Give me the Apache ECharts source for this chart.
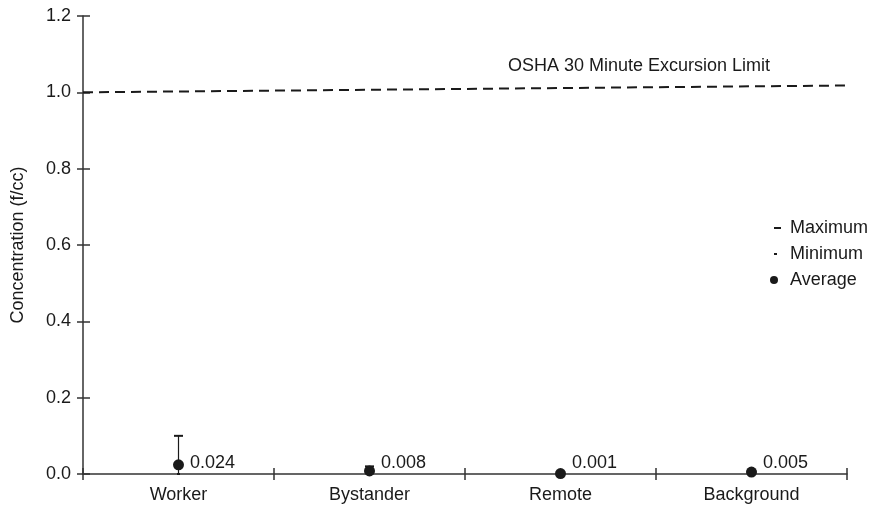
<!DOCTYPE html>
<html>
<head>
<meta charset="utf-8">
<script src="https://cdn.jsdelivr.net/npm/echarts@6/dist/echarts.min.js"></script>
<style>html,body{margin:0;padding:0;background:#fff;}#c{width:874px;height:507px;}</style>
</head>
<body>
<div id="c"></div>
<script>
const categories = ['Worker', 'Bystander', 'Remote', 'Background'];
const averages = [0.024, 0.008, 0.001, 0.005];
const maximums = [0.10, 0.02, 0.002, 0.008];
const minimums = [0.0, 0.002, 0.0, 0.002];
const limitValues = [1.0, 1.018];
const limitLabel = 'OSHA 30 Minute Excursion Limit';
const yAxisTitle = 'Concentration (f/cc)';

const FONT = '"Liberation Sans", Arial, sans-serif';
const INK = '#1a1a1a';
const AX = '#333';
const FS = 18;
const chart = echarts.init(document.getElementById('c'));

const option = {
  backgroundColor: '#fff',
  animation: false,
  textStyle: { fontFamily: FONT },
  grid: { left: 83, right: 27, top: 16, bottom: 33 },
  legend: [
    { data: ['Maximum'], orient: 'vertical', left: 769, top: 214, icon: 'rect', itemWidth: 7, itemHeight: 2,
      itemStyle: { color: INK, opacity: 1 },
      textStyle: { fontSize: FS, color: INK, fontFamily: FONT, padding: [0, 0, 0, 4] }, selectedMode: false },
    { data: ['Minimum'], orient: 'vertical', left: 769, top: 240, icon: 'rect', itemWidth: 3, itemHeight: 2,
      itemStyle: { color: INK, opacity: 1 },
      textStyle: { fontSize: FS, color: INK, fontFamily: FONT, padding: [0, 0, 0, 8] }, selectedMode: false },
    { data: ['Average'], orient: 'vertical', left: 765, top: 266, icon: 'circle', itemWidth: 8, itemHeight: 8,
      itemStyle: { color: INK, opacity: 1 },
      textStyle: { fontSize: FS, color: INK, fontFamily: FONT, padding: [0, 0, 0, 7] }, selectedMode: false }
  ],
  xAxis: [
    { type: 'category', data: categories, boundaryGap: true,
      axisLine: { lineStyle: { color: AX, width: 1.5 } },
      axisTick: { show: true, length: 6, inside: false, lineStyle: { color: AX, width: 1.5 } },
      axisLabel: { fontSize: FS, color: INK, margin: 12, fontFamily: FONT },
      splitLine: { show: false } },
    { type: 'category', data: categories, boundaryGap: true, position: 'bottom',
      axisLine: { show: false },
      axisTick: { show: true, length: 6, inside: true, lineStyle: { color: AX, width: 1.5 } },
      axisLabel: { show: false }, splitLine: { show: false } },
    { type: 'value', min: 0, max: 1, show: false }
  ],
  yAxis: [
    { type: 'value', min: 0, max: 1.2, interval: 0.2,
      name: yAxisTitle, nameLocation: 'middle', nameGap: 56,
      nameTextStyle: { fontSize: FS, color: INK, fontFamily: FONT },
      axisLine: { show: true, lineStyle: { color: AX, width: 1.5 } },
      axisTick: { show: true, length: 6, inside: false, lineStyle: { color: AX, width: 1.5 } },
      axisLabel: { fontSize: FS, color: INK, margin: 12, fontFamily: FONT, formatter: v => v.toFixed(1) },
      splitLine: { show: false } },
    { type: 'value', min: 0, max: 1.2, interval: 0.2, position: 'left',
      axisLine: { show: false },
      axisTick: { show: true, length: 7, inside: true, lineStyle: { color: AX, width: 1.5 } },
      axisLabel: { show: false }, splitLine: { show: false } }
  ],
  graphic: [
    { type: 'text', left: 508, top: 57, silent: true,
      style: { text: limitLabel, fontSize: FS, fill: INK, fontFamily: FONT } }
  ],
  series: [
    {
      name: 'Maximum', type: 'custom', xAxisIndex: 0, yAxisIndex: 0,
      itemStyle: { color: INK },
      data: categories.map((c, i) => [i, maximums[i], minimums[i]]),
      renderItem: function (params, api) {
        const top = api.coord([api.value(0), api.value(1)]);
        const bot = api.coord([api.value(0), api.value(2)]);
        return { type: 'group', children: [
          { type: 'line', shape: { x1: top[0], y1: top[1], x2: bot[0], y2: bot[1] }, style: { stroke: INK, lineWidth: 1.2 } },
          { type: 'line', shape: { x1: top[0] - 4.5, y1: top[1], x2: top[0] + 4.5, y2: top[1] }, style: { stroke: INK, lineWidth: 2 } }
        ] };
      },
      z: 3
    },
    {
      name: 'Minimum', type: 'scatter', xAxisIndex: 0, yAxisIndex: 0,
      symbol: 'rect', symbolSize: [3, 2], itemStyle: { color: INK, opacity: 1 },
      data: minimums.map((v, i) => [i, v]), z: 3
    },
    {
      name: 'Average', type: 'scatter', xAxisIndex: 0, yAxisIndex: 0,
      symbol: 'circle', symbolSize: 11, itemStyle: { color: INK, opacity: 1 },
      data: averages.map((v, i) => [i, v]),
      label: { show: true, position: 'right', distance: 6, fontSize: FS, color: INK, fontFamily: FONT,
        formatter: p => averages[p.dataIndex].toFixed(3) },
      labelLayout: function () {
        const y0 = chart.convertToPixel({ yAxisIndex: 0 }, 0);
        return { y: y0 - 11, verticalAlign: 'middle' };
      },
      z: 4
    },
    {
      name: 'OSHA limit', type: 'line', xAxisIndex: 2, yAxisIndex: 0,
      data: [[0, limitValues[0]], [1.004, limitValues[1]]],
      symbol: 'none', clip: false, silent: true,
      lineStyle: { color: INK, width: 2, type: [10, 6] }
    }
  ]
};
chart.setOption(option);
</script>
</body>
</html>
